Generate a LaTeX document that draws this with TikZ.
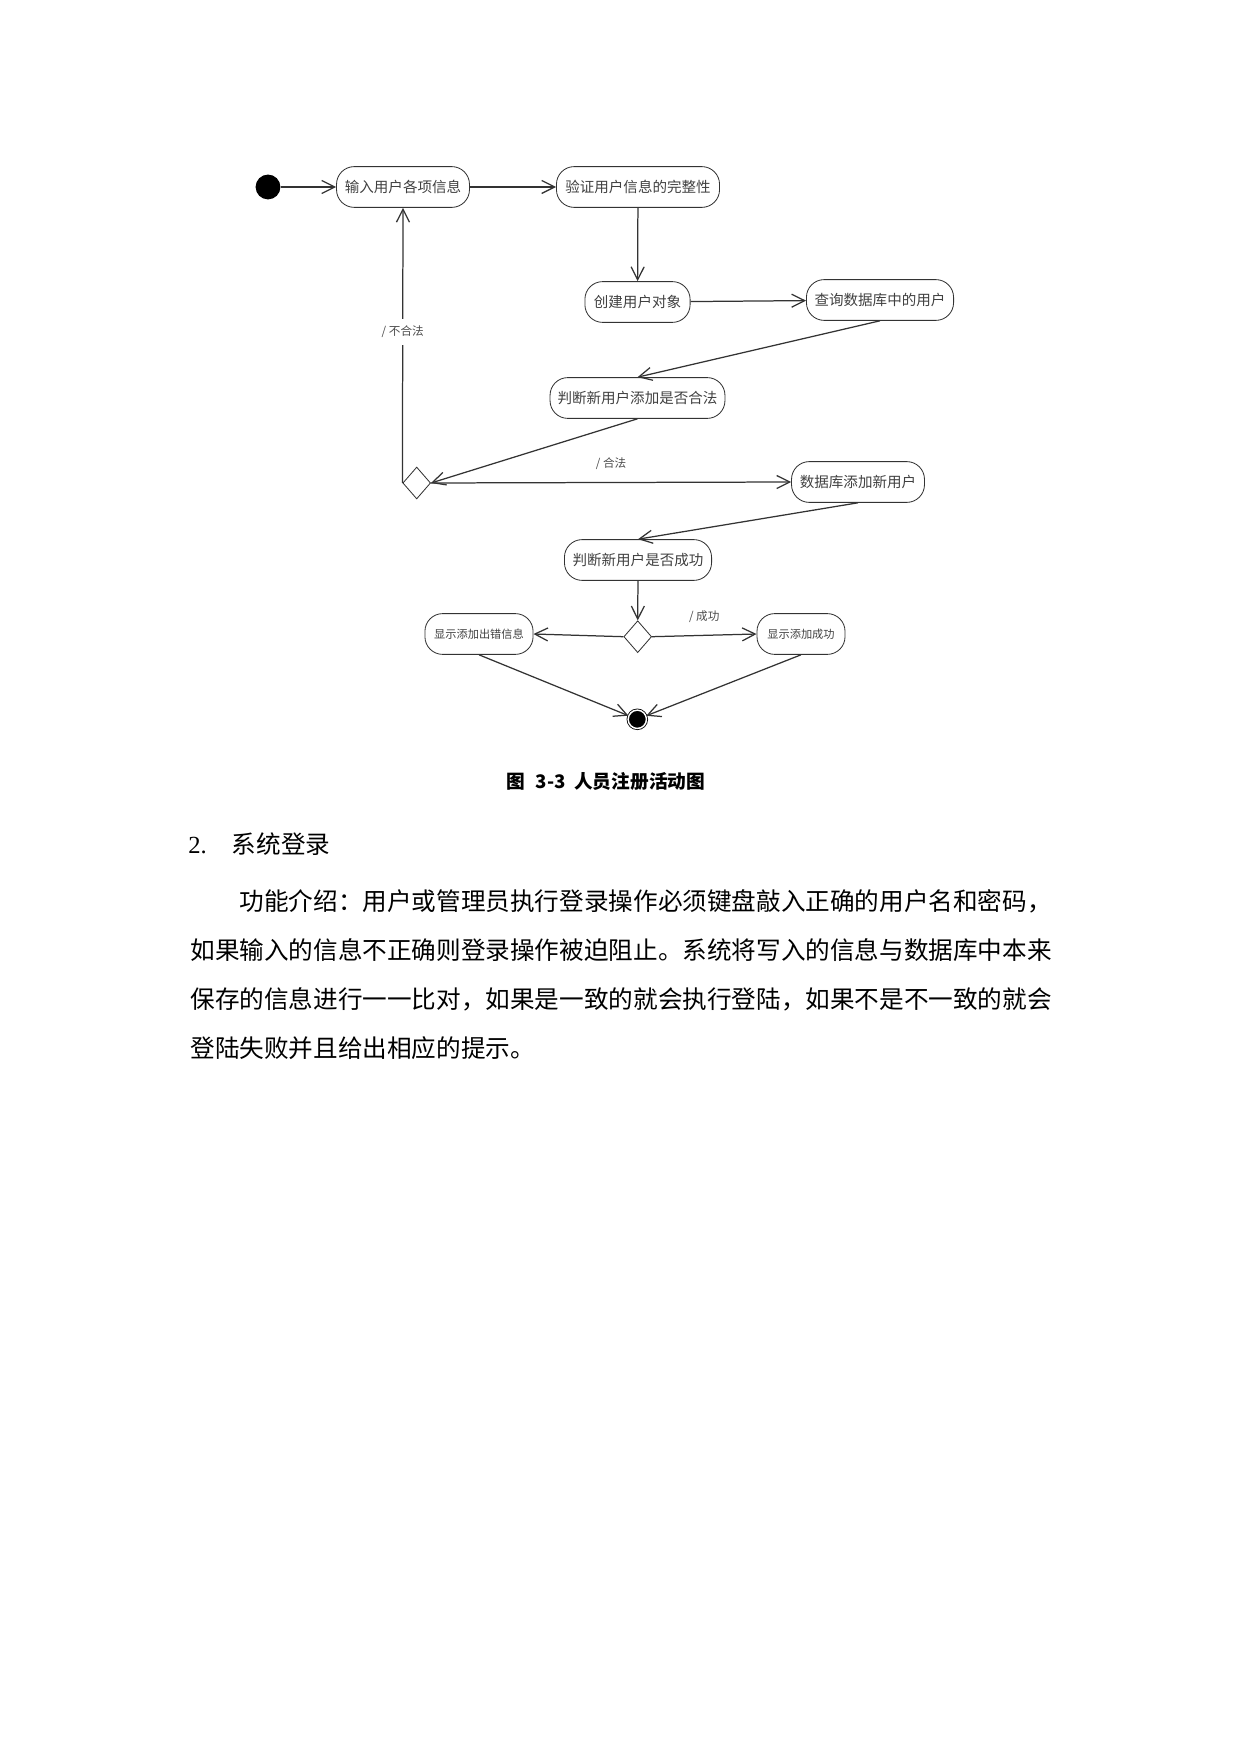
\documentclass[tikz,border=0pt]{standalone}
\usepackage{fontspec}
\setmainfont{Liberation Serif}
\newfontfamily\cjk{Noto Sans CJK SC}
\usetikzlibrary{arrows.meta,shapes.geometric}

\begin{document}
\begin{tikzpicture}[x=0.016922cm, y=-0.016922cm,
    >={Straight Barb[length=2.2mm,width=2.2mm]},
    activity/.style={draw=black!80, rounded corners=0.3cm, minimum height=0.69cm,
      inner sep=1pt, text=black!75, font=\cjk\fontsize{7}{8}\selectfont},
    small activity/.style={activity, font=\cjk\fontsize{5.4}{6}\selectfont},
    decision/.style={draw=black!80, diamond, minimum width=0.47cm,
      minimum height=0.54cm, inner sep=0pt},
    init dot/.style={circle, fill=black, minimum size=0.42cm, inner sep=0pt},
    final dot/.style={circle, draw=black, fill=black, double=white,
      double distance=0.7pt, minimum size=0.31cm, inner sep=0pt},
    guard/.style={text=black!70, font=\cjk\fontsize{5.6}{6}\selectfont},
    flow/.style={->, draw=black!80, line width=0.6pt}]

  % page frame
  \useasboundingbox (0,0) rectangle (1241,1754);

  % ===== Activity diagram =====
  \node[init dot] (init) at (268,187) {};
  \node[activity, minimum width=2.25cm] (input) at (403,187) {输入用户各项信息};
  \node[activity, minimum width=2.76cm] (check) at (638,187) {验证用户信息的完整性};
  \node[activity, minimum width=1.78cm] (create) at (637.5,302) {创建用户对象};
  \node[activity, minimum width=2.49cm] (query) at (880,300) {查询数据库中的用户};
  \node[activity, minimum width=2.96cm] (legal) at (637.5,398) {判断新用户添加是否合法};
  \node[decision] (dec1) at (416.7,483) {};
  \node[activity, minimum width=2.25cm] (addnew) at (858,482) {数据库添加新用户};
  \node[activity, minimum width=2.49cm] (succ) at (638,560) {判断新用户是否成功};
  \node[decision] (dec2) at (637.7,636.7) {};
  \node[small activity, minimum width=1.83cm] (err) at (479,634) {显示添加出错信息};
  \node[small activity, minimum width=1.49cm] (ok) at (801,634) {显示添加成功};
  \node[final dot] (final) at (637.3,719.3) {};

  % control flows
  \draw[flow] (init) -- (input);
  \draw[flow] (input) -- (check);
  \draw[flow] (check) -- (create);
  \draw[flow] (create) -- (query);
  \draw[flow] (query.south) -- (legal.north);
  \draw[flow] (legal.south) -- (dec1.east);
  \draw[flow] (dec1.east) -- node[guard, midway, above=2.5pt] {/ 合法} (addnew.west);
  \draw[flow] (dec1.west) -- node[guard, fill=white, pos=0.55] {/ 不合法} (input.south);
  \draw[flow] (addnew.south) -- (succ.north);
  \draw[flow] (succ) -- (dec2);
  \draw[flow] (dec2.west) -- (err.east);
  \draw[flow] (dec2.east) -- node[guard, midway, above=2.5pt] {/ 成功} (ok.west);
  \draw[flow] (err.south) -- (final);
  \draw[flow] (ok.south) -- (final);

  % ===== Caption and body text =====
  \node[font=\cjk\bfseries\fontsize{9}{10}\selectfont] (caption) at (606,781)
    {图\hspace{5pt}3-3\hspace{4pt}人员注册活动图};
  \node[anchor=west, inner sep=0pt, font=\fontsize{11.85}{14}\selectfont] (heading)
    at (188,844) {2.\hspace{12pt}{\cjk 系统登录}};
  \node[anchor=north west, inner sep=0pt, align=left,
    font=\cjk\fontsize{11.85}{23.6}\selectfont] (intro) at (190,889)
    {\hspace{2em}功能介绍：用户或管理员执行登录操作必须键盘敲入正确的用户名和密码，\\
     如果输入的信息不正确则登录操作被迫阻止。系统将写入的信息与数据库中本来\\
     保存的信息进行一一比对，如果是一致的就会执行登陆，如果不是不一致的就会\\
     登陆失败并且给出相应的提示。};

\end{tikzpicture}
\end{document}
